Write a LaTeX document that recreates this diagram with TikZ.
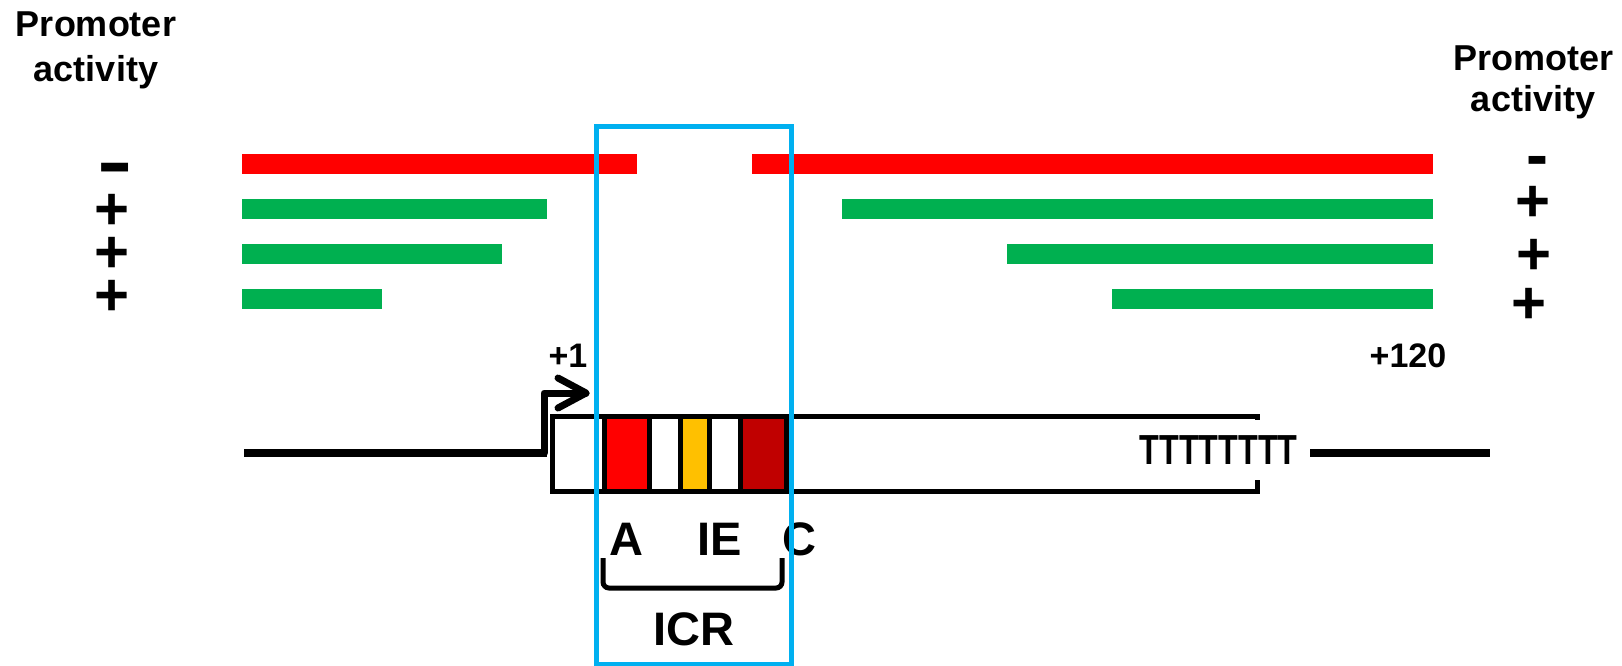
\documentclass[tikz,border=0pt]{standalone}
\usepackage{fontspec}
\setmainfont{Liberation Sans}
\definecolor{elemA}{HTML}{FF0000}
\definecolor{elemIE}{HTML}{FFC000}
\definecolor{elemC}{HTML}{C00000}
\definecolor{activeBar}{HTML}{00B050}
\definecolor{deadBar}{HTML}{FF0000}
\definecolor{icrFrame}{HTML}{00B0F0}
\begin{document}
\begin{tikzpicture}[x=1pt,y=-1pt,
  heading/.style={font=\bfseries\fontsize{36pt}{#1}\selectfont, align=center, inner sep=0pt},
  signmark/.style={font=\bfseries\fontsize{30pt}{30pt}\selectfont, inner sep=0pt, anchor=base},
  posmark/.style={font=\bfseries\fontsize{34pt}{34pt}\selectfont, inner sep=0pt, anchor=base},
  elemlabel/.style={font=\bfseries\fontsize{47pt}{47pt}\selectfont, inner sep=0pt, anchor=base},
  element/.style={draw=black, line width=5pt, fill=#1},
  gene/.style={draw=black, line width=5pt},
  dna/.style={draw=black, line width=8pt},
  tss/.style={draw=black, line width=7pt, line join=round, line cap=round},
  activebar/.style={fill=activeBar},
  deadbar/.style={fill=deadBar},
  icrbox/.style={draw=icrFrame, line width=5pt}]
\useasboundingbox (0,0) rectangle (1622,666);

% column headings
\node[heading=45pt] (headL) at (96,50.4) {Promoter\\activity};
\node[heading=41pt] (headR) at (1533,82.4) {Promoter\\activity};

% activity of each construct, left side
\node[signmark] (actL1) at (115,186) {\scalebox{3.53}[2.43]{-}};
\node[signmark] (actL2) at (112,229) {\scalebox{2}{+}};
\node[signmark] (actL3) at (112,272) {\scalebox{2}{+}};
\node[signmark] (actL4) at (112,315) {\scalebox{2}{+}};

% activity of each construct, right side
\node[signmark] (actR1) at (1537,177.5) {\scalebox{2.2}{-}};
\node[signmark] (actR2) at (1533,221) {\scalebox{2}{+}};
\node[signmark] (actR3) at (1534,274) {\scalebox{2}{+}};
\node[signmark] (actR4) at (1529,323) {\scalebox{2}{+}};

% deletion constructs from the 5' end
\fill[deadbar]   (242,154) rectangle (637,174);
\fill[activebar] (242,199) rectangle (547,219);
\fill[activebar] (242,244) rectangle (502,264);
\fill[activebar] (242,289) rectangle (382,309);

% deletion constructs from the 3' end
\fill[deadbar]   (752,154) rectangle (1433,174);
\fill[activebar] (842,199) rectangle (1433,219);
\fill[activebar] (1007,244) rectangle (1433,264);
\fill[activebar] (1112,289) rectangle (1433,309);

% position marks
\node[posmark] (p1) at (568,367) {+1};
\node[posmark] (p120) at (1408,367) {+120};

% transcribed region
\draw[gene] (552.5,416) rectangle (1257.5,491);
\draw[element=elemA]  (604,416) rectangle (649,491);
\draw[element=elemIE] (680.5,416) rectangle (709,491);
\draw[element=elemC]  (740.5,416) rectangle (786,491);

% flanking DNA and transcription start
\coordinate (dnaL) at (244,453);
\coordinate (tssFoot) at (544,453);
\coordinate (tssTop) at (544,393);
\coordinate (tssTip) at (586,393);
\draw[dna] (dnaL) -- ([xshift=3pt]tssFoot);
\draw[tss] (tssFoot) -- (tssTop) -- (tssTip);
\draw[tss] ([shift={(-28,-15)}]tssTip) -- (tssTip) -- ([shift={(-28,15)}]tssTip);

% poly-T terminator
\node[fill=white, inner sep=0pt, minimum width=183pt, minimum height=60pt,
      font=\bfseries\fontsize{42pt}{42pt}\selectfont] (term) at (1218.5,450)
      {\scalebox{0.77}[1]{TTTTTTTT}};
\coordinate (dnaR) at (1490,453);
\draw[dna] (term.east |- dnaR) -- (dnaR);

% element labels
\node[elemlabel] (labA)  at (626,555) {A};
\node[elemlabel] (labIE) at (720,555) {IE};
\node[elemlabel] (labC)  at (799,555) {C};
\draw[line width=5pt, rounded corners=6pt] (603,558) -- (603,588) -- (782,588) -- (782,558);
\node[elemlabel] (labICR) at (694,645) {ICR};

% internal control region frame
\draw[icrbox] (596,126.5) rectangle (791.5,664.5);
\end{tikzpicture}
\end{document}
